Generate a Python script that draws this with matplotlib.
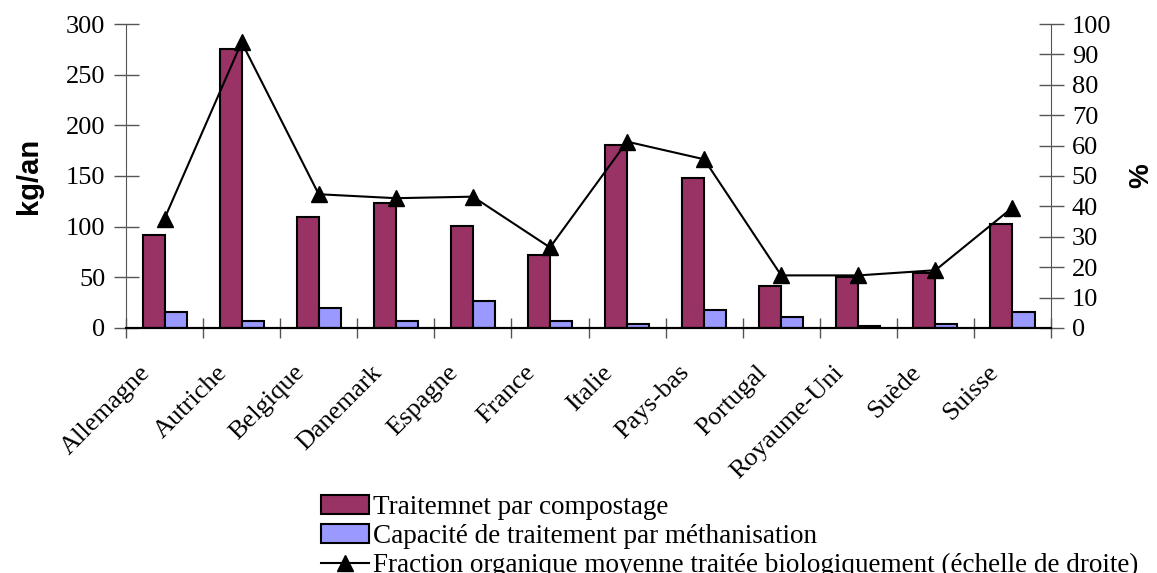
import numpy as np
import matplotlib
matplotlib.use("Agg")
import matplotlib.pyplot as plt
from matplotlib.transforms import ScaledTranslation

# data
pays = ["Allemagne", "Autriche", "Belgique", "Danemark", "Espagne", "France",
        "Italie", "Pays-bas", "Portugal", "Royaume-Uni", "Suède", "Suisse"]
compostage = [92, 275, 110, 123, 101, 72, 181, 148, 41, 50, 54, 103]
methanisation = [16, 7, 20, 7, 27, 7, 3.5, 18, 10.5, 1.5, 3.5, 16]
fraction = [36, 94, 44, 42.7, 43.2, 26.5, 61.3, 55.5, 17.3, 17.3, 19, 39.6]

lbl_comp = "Traitemnet par compostage"
lbl_meth = "Capacité de traitement par méthanisation"
lbl_frac = "Fraction organique moyenne traitée biologiquement (échelle de droite)"

serif = "Liberation Serif"
fs = 19

fig = plt.figure(figsize=(11.57, 5.73), dpi=100)
ax = fig.add_axes([0.1089, 0.4276, 0.7995, 0.5305])
ax2 = ax.twinx()

x = np.arange(len(pays))
w = 1 / 3.5
b1 = ax.bar(x - w / 2, compostage, w, color="#993366", edgecolor="black",
            linewidth=1.5, label=lbl_comp, zorder=2)
b2 = ax.bar(x + w / 2, methanisation, w, color="#9999FF", edgecolor="black",
            linewidth=1.5, label=lbl_meth, zorder=2)
ln, = ax2.plot(x, fraction, color="black", linewidth=1.5, marker="^",
               markersize=11, label=lbl_frac)

ax.set_xlim(-0.5, len(pays) - 0.5)
ax.set_ylim(0, 300)
ax2.set_ylim(0, 100)
ax.set_yticks(np.arange(0, 301, 50))
ax2.set_yticks(np.arange(0, 101, 10))

# category separators as ticks, labels at centres
ax.set_xticks(np.arange(-0.5, len(pays), 1))
ax.set_xticklabels([])
ax.set_xticks(x, minor=True)
ax.set_xticklabels(pays, minor=True, rotation=45, ha="right", va="top",
                   fontsize=fs, family=serif)
ax.tick_params(axis="x", which="minor", length=0, pad=24)
for t in ax.get_xticklabels(minor=True):
    t.set_transform(t.get_transform() + ScaledTranslation(-0.1, 0, fig.dpi_scale_trans))
ax.tick_params(axis="x", which="major", direction="inout", length=14,
               width=1, color="#555555")

ax.tick_params(axis="y", direction="inout", length=18, width=1,
               color="#555555", labelsize=fs, pad=6)
ax2.tick_params(axis="y", direction="inout", length=18, width=1,
                color="#555555", labelsize=fs, pad=6)
for t in ax.get_yticklabels() + ax2.get_yticklabels():
    t.set_family(serif)

for a in (ax, ax2):
    a.spines["top"].set_visible(False)
    a.spines["left"].set_color("#555555")
    a.spines["right"].set_color("#555555")
    a.spines["bottom"].set_color("black")
    a.spines["bottom"].set_linewidth(1.5)
ax.spines["right"].set_visible(False)
ax2.spines["left"].set_visible(False)

ax.set_ylabel("kg/an", fontsize=21, fontweight="bold", family="Liberation Sans",
              labelpad=16)
ax2.set_ylabel("%", fontsize=20, fontweight="bold", family="Liberation Sans",
               labelpad=12)

fig.legend([b1, b2, ln], [lbl_comp, lbl_meth, lbl_frac],
           loc="upper left", bbox_to_anchor=(0.266, 0.16), frameon=False,
           prop={"family": serif, "size": 19.5}, handlelength=1.75,
           handletextpad=0.15, labelspacing=0.15, borderpad=0)

fig.savefig("out.png", dpi=100)
